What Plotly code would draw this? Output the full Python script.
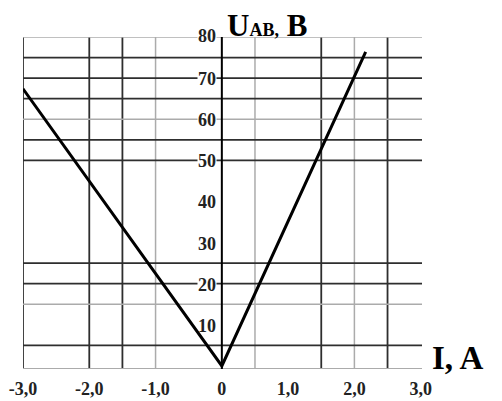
import plotly.graph_objects as go

# Current I (A) and voltage U_AB (V) of the V-shaped characteristic
current_a = [-3.0, 0.0, 2.17]
voltage_v = [67.4, 0.0, 76.4]

# Graph-paper rulings
v_grid_dark = [-3.0, -2.0, -1.5, 1.5, 2.5]
v_grid_light = [-1.0, 0.5, 2.0]
h_grid_dark = [75, 70, 65, 55, 50, 25, 20, 5]
h_grid_light = [80, 60, 15, -0.7]

# Axis labels
x_tick_vals = [-3.0, -2.0, -1.0, 0.0, 1.0, 2.0, 3.0]
x_tick_text = ["-3,0", "-2,0", "-1,0", "0", "1,0", "2,0", "3,0"]
y_tick_vals = [10, 20, 30, 40, 50, 60, 70, 80]
y_tick_text = ["10", "20", "30", "40", "50", "60", "70", "80"]

X_RANGE = [-3.0, 3.02]
Y_RANGE = [-0.75, 80]

FONT = "Liberation Serif"
DARK = "#2e2e2e"
LIGHT = "#ababab"

shapes = []
for xv in v_grid_dark:
    shapes.append(dict(type="line", xref="x", yref="y", x0=xv, x1=xv,
                       y0=Y_RANGE[0], y1=Y_RANGE[1],
                       line=dict(color=DARK, width=1.8), layer="below"))
for xv in v_grid_light:
    shapes.append(dict(type="line", xref="x", yref="y", x0=xv, x1=xv,
                       y0=Y_RANGE[0], y1=Y_RANGE[1],
                       line=dict(color=LIGHT, width=1.5), layer="below"))
for yv in h_grid_dark:
    shapes.append(dict(type="line", xref="x", yref="y", x0=X_RANGE[0], x1=X_RANGE[1],
                       y0=yv, y1=yv, line=dict(color=DARK, width=1.8), layer="below"))
for yv in h_grid_light:
    shapes.append(dict(type="line", xref="x", yref="y", x0=X_RANGE[0], x1=X_RANGE[1],
                       y0=yv, y1=yv, line=dict(color=LIGHT, width=1.5), layer="below"))
# vertical U axis through I = 0
shapes.append(dict(type="line", xref="x", yref="y", x0=0, x1=0,
                   y0=Y_RANGE[0], y1=Y_RANGE[1],
                   line=dict(color="black", width=2)))

ruled = set(h_grid_dark) | set(h_grid_light)
annotations = []
for yv, txt in zip(y_tick_vals, y_tick_text):
    # labels sitting on a ruling get a white patch behind them
    annotations.append(dict(x=0, y=yv, xref="x", yref="y", text=txt,
                            showarrow=False, xanchor="right", yanchor="middle",
                            xshift=-5, yshift=1 if yv == 80 else -1,
                            bgcolor="white" if yv in ruled else "rgba(0,0,0,0)",
                            borderpad=0,
                            font=dict(family=FONT, size=18, color="#222",
                                      weight="bold")))

# axis titles
annotations.append(dict(x=0, y=1, xref="x", yref="paper",
                        text="U<span style='font-size:18px'>AB,</span> B",
                        showarrow=False, xanchor="left", yanchor="bottom",
                        xshift=3, yshift=-8,
                        font=dict(family=FONT, size=31, color="black",
                                  weight="bold")))
annotations.append(dict(x=1, y=0, xref="paper", yref="paper",
                        text="I, A", showarrow=False,
                        xanchor="left", yanchor="bottom",
                        xshift=8, yshift=-9,
                        font=dict(family=FONT, size=33, color="black",
                                  weight="bold")))

fig = go.Figure()
fig.add_trace(go.Scatter(x=current_a, y=voltage_v, mode="lines",
                         line=dict(color="black", width=3),
                         hoverinfo="skip", showlegend=False))

fig.update_layout(
    width=502, height=401,
    margin=dict(l=23, r=80, t=37, b=32),
    paper_bgcolor="white", plot_bgcolor="white",
    shapes=shapes, annotations=annotations,
    xaxis=dict(range=X_RANGE, showgrid=False, zeroline=False, showline=False,
               automargin=False,
               tickvals=x_tick_vals, ticktext=x_tick_text, ticks="",
               ticklabelstandoff=7,
               tickfont=dict(family=FONT, size=18, color="#222", weight="bold")),
    yaxis=dict(range=Y_RANGE, showgrid=False, zeroline=False, showline=False,
               automargin=False, showticklabels=False, ticks=""),
)

fig.write_html("out.html")
